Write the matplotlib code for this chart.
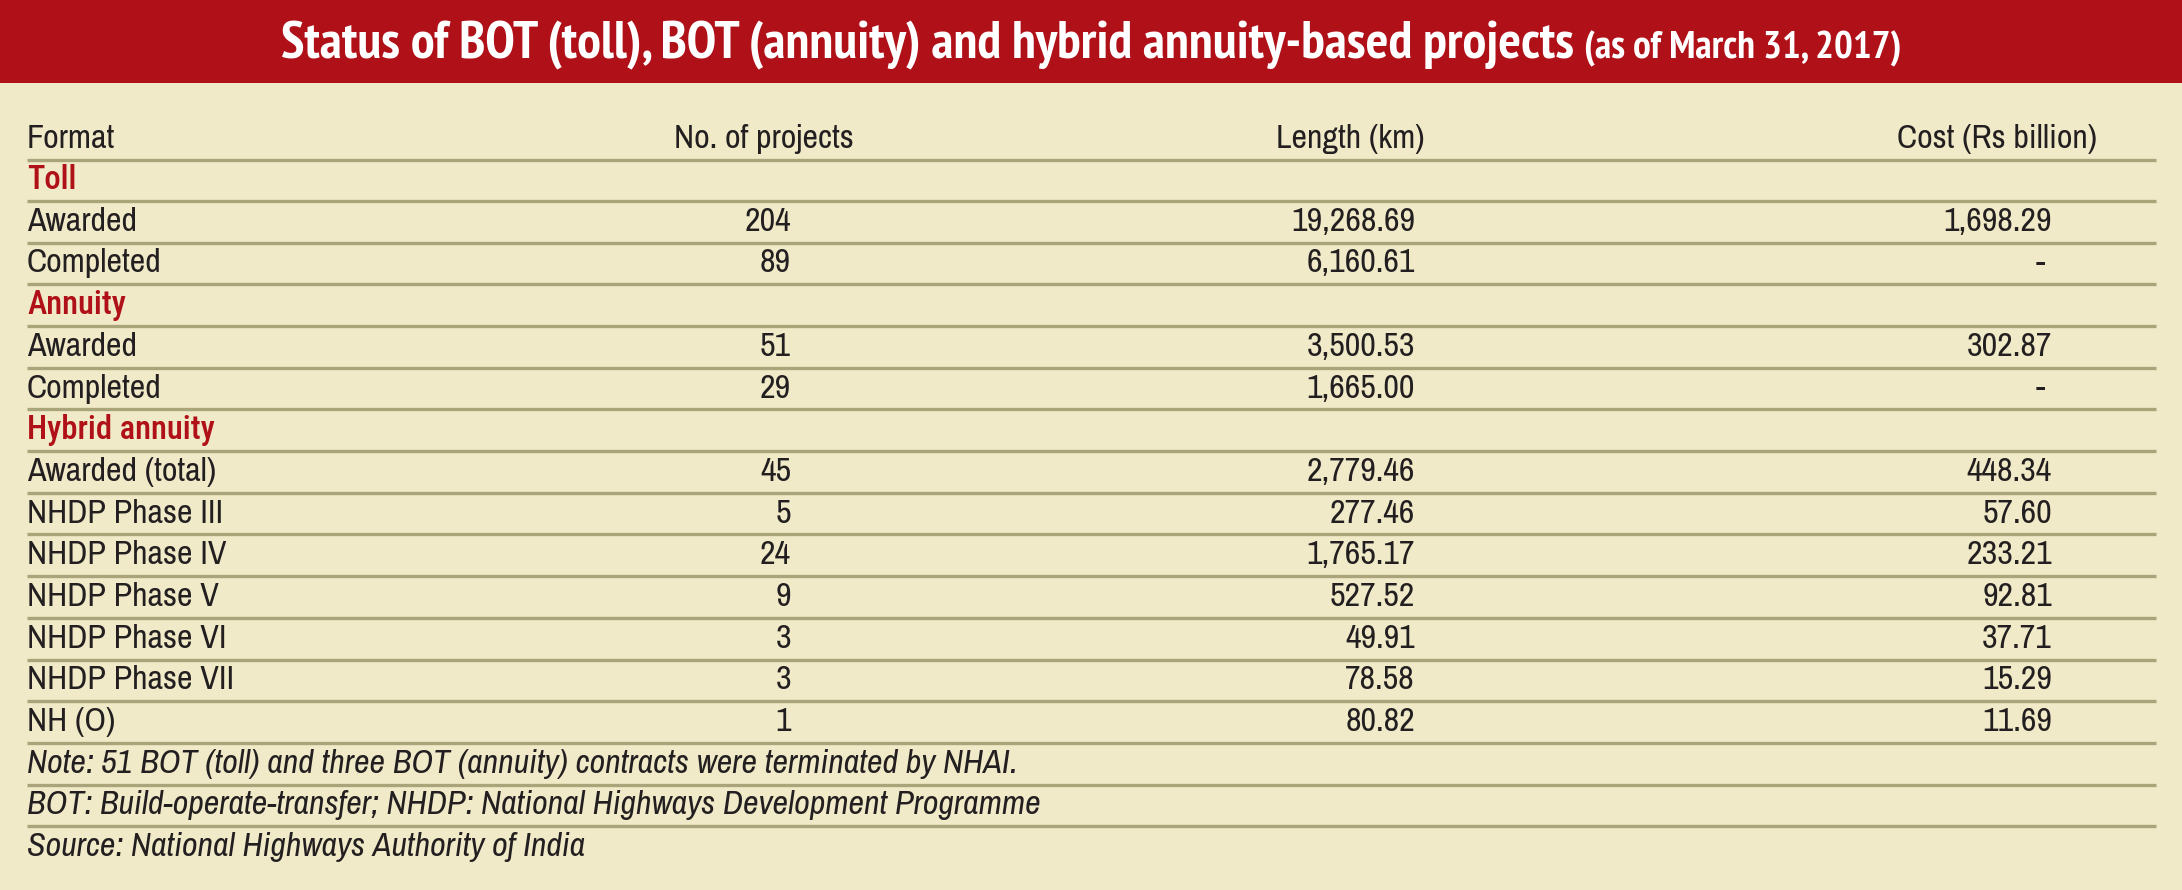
import matplotlib
matplotlib.use("Agg")
import matplotlib.pyplot as plt

# --- table content -------------------------------------------------------
title = "Status of BOT (toll), BOT (annuity) and hybrid annuity-based projects"
subtitle = "(as of March 31, 2017)"
headers = ["Format", "No. of projects", "Length (km)", "Cost (Rs billion)"]

row_labels = ["Toll", "Awarded", "Completed",
              "Annuity", "Awarded", "Completed",
              "Hybrid annuity", "Awarded (total)", "NHDP Phase III",
              "NHDP Phase IV", "NHDP Phase V", "NHDP Phase VI",
              "NHDP Phase VII", "NH (O)"]
is_section = [True, False, False, True, False, False, True,
              False, False, False, False, False, False, False]
projects = ["", "204", "89", "", "51", "29", "", "45", "5", "24", "9", "3", "3", "1"]
length_km = ["", "19,268.69", "6,160.61", "", "3,500.53", "1,665.00", "",
             "2,779.46", "277.46", "1,765.17", "527.52", "49.91", "78.58", "80.82"]
cost_bn = ["", "1,698.29", "-", "", "302.87", "-", "",
           "448.34", "57.60", "233.21", "92.81", "37.71", "15.29", "11.69"]

notes = ["Note: 51 BOT (toll) and three BOT (annuity) contracts were terminated by NHAI.",
         "BOT: Build-operate-transfer; NHDP: National Highways Development Programme",
         "Source: National Highways Authority of India"]

# --- style ---------------------------------------------------------------
body_font = ["Archivo Narrow", "Roboto Condensed", "DejaVu Sans"]
section_font = ["Roboto Condensed", "Archivo Narrow", "DejaVu Sans"]
title_font = ["PT Sans Narrow", "Fira Sans Condensed", "DejaVu Sans"]

RED = "#B01018"
BG = "#F0EAC8"
RULE = "#A9A479"
INK = "#231F20"

W, H = 2182, 890
fig = plt.figure(figsize=(W / 100, H / 100), dpi=100, facecolor=BG)
ax = fig.add_axes([0, 0, 1, 1])
ax.set_xlim(0, W)
ax.set_ylim(H, 0)
ax.axis("off")

# title band
ax.add_patch(plt.Rectangle((0, 0), W, 83, color=RED, lw=0))
t1 = ax.text(0, 58, title, color="white", fontsize=34, fontweight="bold",
             family=title_font, va="baseline", ha="left")
t2 = ax.text(0, 58, subtitle, color="white", fontsize=26, fontweight="bold",
             family=title_font, va="baseline", ha="left")
fig.canvas.draw()
r = fig.canvas.get_renderer()
# fit the title to the width it has in the original
t1.set_fontsize(34 * 1294 / t1.get_window_extent(r).width)
t2.set_fontsize(26 * 317 / t2.get_window_extent(r).width)
fig.canvas.draw()
w1 = t1.get_window_extent(r).width
w2 = t2.get_window_extent(r).width
gap = 10
x0 = (W - w1 - gap - w2) / 2
t1.set_x(x0)
t2.set_x(x0 + w1 + gap)

left, right = 27, 2156
col_x = [27, 791, 1415, 2052]
head_x = [27, 764, 1350, 1997]
fs = 24.5

ax.text(head_x[0], 139, headers[0], fontsize=fs, family=body_font, color=INK,
        va="center", ha="left")
for hx, h in zip(head_x[1:], headers[1:]):
    ax.text(hx, 139, h, fontsize=fs, family=body_font, color=INK,
            va="center", ha="center")
ax.plot([left, right], [159.5, 159.5], color=RULE, lw=2.4, solid_capstyle="butt")

y0, pitch = 180, 41.7
for i, lab in enumerate(row_labels):
    y = y0 + i * pitch
    if is_section[i]:
        ax.text(col_x[0], y, lab, fontsize=fs - 1, family=section_font,
                color=RED, va="center", ha="left", fontweight="medium")
    else:
        ax.text(col_x[0], y, lab, fontsize=fs, family=body_font,
                color=INK, va="center", ha="left")
    for cx, val in zip(col_x[1:], [projects[i], length_km[i], cost_bn[i]]):
        ax.text(cx - (7 if val == "-" else 0), y, val, fontsize=fs, family=body_font,
                color=INK, va="center", ha="right")
    ax.plot([left, right], [y + pitch / 2] * 2, color=RULE, lw=2.4, solid_capstyle="butt")

for j, note in enumerate(notes):
    y = y0 + (len(row_labels) + j) * pitch
    ax.text(col_x[0], y, note, fontsize=fs, family=body_font, style="italic",
            color=INK, va="center", ha="left")
    if j < len(notes) - 1:
        ax.plot([left, right], [y + pitch / 2] * 2, color=RULE, lw=2.4, solid_capstyle="butt")

fig.savefig("out.png", dpi=100, facecolor=BG)
